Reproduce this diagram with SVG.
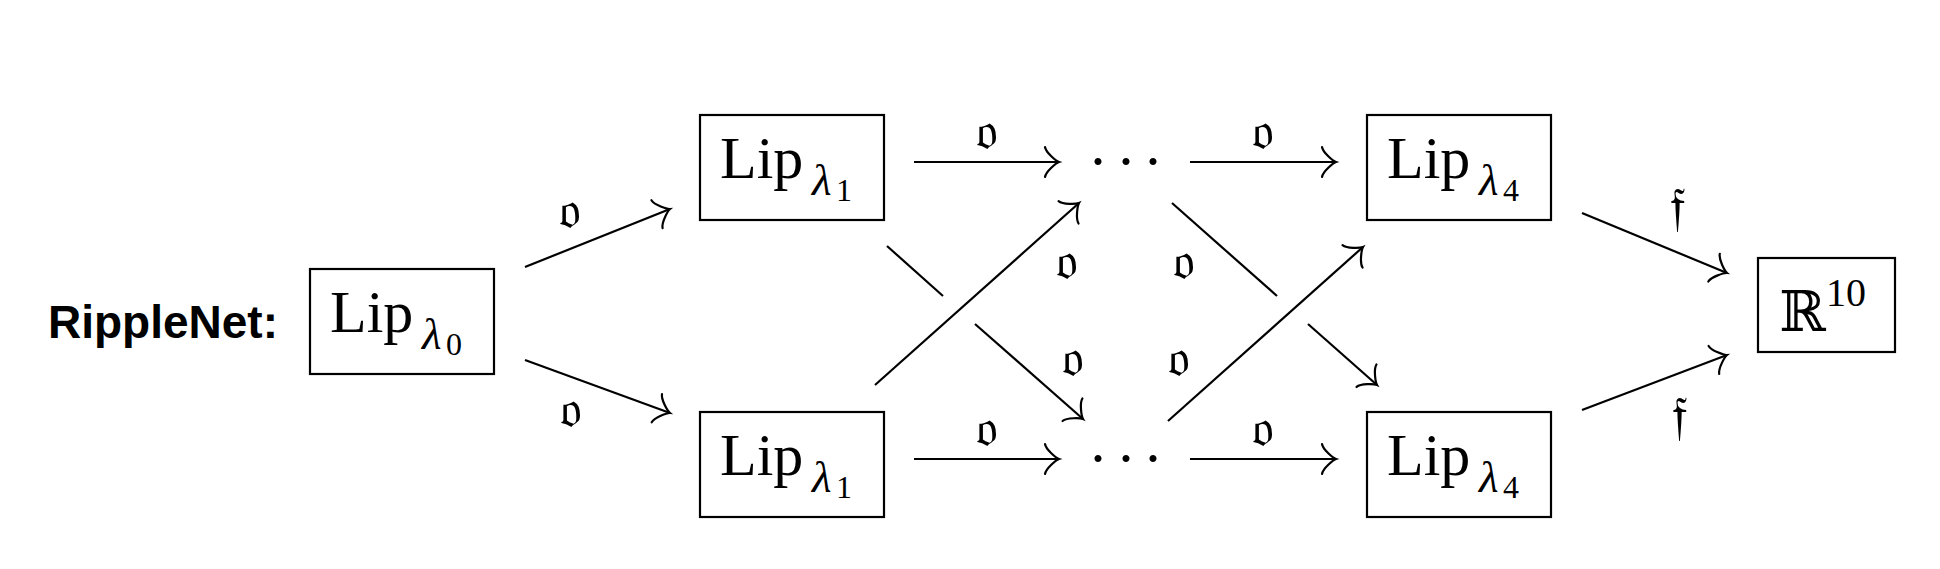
<svg xmlns="http://www.w3.org/2000/svg" width="1940" height="569" viewBox="0 0 1940 569">
<style>
.box{fill:#fff;stroke:#000;stroke-width:2.2}
.ln{fill:none;stroke:#000;stroke-width:2.2}
.arr{marker-end:url(#to)}
.lip{font-family:"Liberation Serif","DejaVu Serif",serif;font-size:60px}
.lam{font-family:"Liberation Serif","DejaVu Serif",serif;font-style:italic;font-size:45px}
.dig{font-family:"Liberation Serif","DejaVu Serif",serif;font-size:32px}
.sup{font-family:"Liberation Serif","DejaVu Serif",serif;font-size:40px}
.lbl{font-family:"DejaVu Serif","DejaVu Sans","Noto Sans",serif;font-size:52px;text-anchor:middle}
.title{font-family:"Liberation Sans",Arial,sans-serif;font-weight:bold;font-size:46px}
</style>
<defs>
<marker id="to" markerUnits="userSpaceOnUse" orient="auto" refX="0" refY="0" markerWidth="30" markerHeight="34" viewBox="-16 -17 18 34" overflow="visible">
<path d="M -14 15 C -13.1 9.4 -2.8 0.94 0 0 C -2.8 -0.94 -13.1 -9.4 -14 -15" fill="none" stroke="#000" stroke-width="2.2" stroke-linecap="round"/>
</marker>
</defs>
<rect width="1940" height="569" fill="#fff"/>
<text id="title" class="title" x="48" y="338">RippleNet:</text>

<g id="lip0">
<rect class="box" x="310" y="269" width="184" height="105"/>
<text class="lip" x="330" y="332">Lip</text>
<text class="lam" x="422" y="349">λ</text>
<text class="dig" x="446" y="355">0</text>
</g>
<g id="lip1top">
<rect class="box" x="700" y="115" width="184" height="105"/>
<text class="lip" x="720" y="178">Lip</text>
<text class="lam" x="812" y="195">λ</text>
<text class="dig" x="836" y="201">1</text>
</g>
<g id="lip1bot">
<rect class="box" x="700" y="412" width="184" height="105"/>
<text class="lip" x="720" y="475">Lip</text>
<text class="lam" x="812" y="492">λ</text>
<text class="dig" x="836" y="498">1</text>
</g>
<g id="dotstop">
<text class="lip" x="1098 1126 1153" y="181" text-anchor="middle">···</text>
</g>
<g id="dotsbot">
<text class="lip" x="1098 1126 1153" y="478" text-anchor="middle">···</text>
</g>
<g id="lip4top">
<rect class="box" x="1367" y="115" width="184" height="105"/>
<text class="lip" x="1387" y="178">Lip</text>
<text class="lam" x="1479" y="195">λ</text>
<text class="dig" x="1503" y="201">4</text>
</g>
<g id="lip4bot">
<rect class="box" x="1367" y="412" width="184" height="105"/>
<text class="lip" x="1387" y="475">Lip</text>
<text class="lam" x="1479" y="492">λ</text>
<text class="dig" x="1503" y="498">4</text>
</g>
<g id="r10">
<rect class="box" x="1758" y="258" width="137" height="94"/>
<text x="1779" y="331" font-family="DejaVu Serif,serif" font-size="56">ℝ</text>
<text class="sup" x="1826" y="306">10</text>
</g>

<g id="connectors">
<line class="ln arr" x1="525" y1="267" x2="670" y2="209"/>
<line class="ln arr" x1="525" y1="360" x2="670" y2="413"/>
<line class="ln arr" x1="914" y1="162" x2="1059" y2="162"/>
<line class="ln arr" x1="1190" y1="162" x2="1336" y2="162"/>
<line class="ln arr" x1="914" y1="459" x2="1059" y2="459"/>
<line class="ln arr" x1="1190" y1="459" x2="1336" y2="459"/>
<line class="ln arr" x1="875" y1="385" x2="1079" y2="203"/>
<line class="ln" x1="887" y1="246" x2="943" y2="296"/>
<line class="ln arr" x1="975" y1="324" x2="1083" y2="419"/>
<line class="ln" x1="1172" y1="203" x2="1277" y2="296"/>
<line class="ln arr" x1="1308" y1="324" x2="1377" y2="385"/>
<line class="ln arr" x1="1168" y1="421" x2="1363" y2="247"/>
<line class="ln arr" x1="1582" y1="213" x2="1727" y2="273"/>
<line class="ln arr" x1="1582" y1="410" x2="1727" y2="355"/>
</g>
<g id="labels">
<text class="lbl" x="570" y="228">𝔬</text>
<text class="lbl" x="571" y="427">𝔬</text>
<text class="lbl" x="987" y="149">𝔬</text>
<text class="lbl" x="1263" y="149">𝔬</text>
<text class="lbl" x="987" y="446">𝔬</text>
<text class="lbl" x="1263" y="446">𝔬</text>
<text class="lbl" x="1067" y="279">𝔬</text>
<text class="lbl" x="1184" y="279">𝔬</text>
<text class="lbl" x="1073" y="376">𝔬</text>
<text class="lbl" x="1179" y="376">𝔬</text>
<text class="lbl" x="1677" y="224">𝔣</text>
<text class="lbl" x="1679" y="433">𝔣</text>
</g>
</svg>
